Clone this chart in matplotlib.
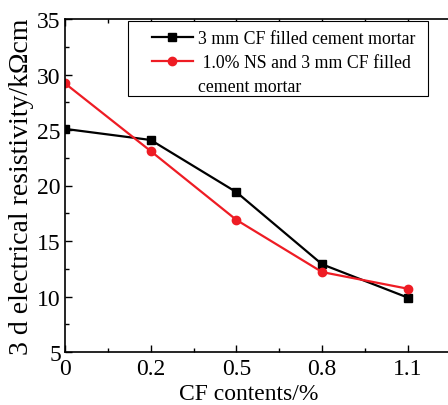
import matplotlib
matplotlib.use("Agg")
import matplotlib.pyplot as plt
from matplotlib.ticker import MultipleLocator
from matplotlib.lines import Line2D
from matplotlib.patches import Rectangle

plt.rcParams['font.family'] = ['Liberation Serif', 'DejaVu Serif']

categories = ["0", "0.2", "0.5", "0.8", "1.1"]
cf_only = [25.1, 24.1, 19.4, 12.9, 9.9]
ns_cf = [29.2, 23.1, 16.9, 12.2, 10.7]
label_cf = "3 mm CF filled cement mortar"
label_ns_1 = " 1.0% NS and 3 mm CF filled"
label_ns_2 = "cement mortar"

W, H = 448, 406
fig = plt.figure(figsize=(W / 100, H / 100), dpi=100)
ax = fig.add_axes([65 / W, 53 / H, 0.88, 333 / H])
x = list(range(len(categories)))
l1, = ax.plot(x, cf_only, color='black', marker='s', markersize=5.5, lw=1.6)
l2, = ax.plot(x, ns_cf, color='#ee1c24', marker='o', markersize=6, lw=1.6)

ax.set_xlim(0, 4.6)
ax.set_ylim(5, 35)
ax.set_xticks(x)
ax.set_xticklabels(categories)
ax.xaxis.set_minor_locator(MultipleLocator(0.5))
ax.yaxis.set_major_locator(MultipleLocator(5))
ax.yaxis.set_minor_locator(MultipleLocator(2.5))
ax.tick_params(which='both', direction='in', top=True, right=True)
ax.tick_params(axis='x', labelsize=17, pad=4)
ax.tick_params(axis='y', labelsize=17, pad=3)
ax.tick_params(which='major', length=5, width=1)
ax.tick_params(which='minor', length=3, width=1)
for s in ax.spines.values():
    s.set_linewidth(1.2)
ax.set_xlabel("CF contents/%", fontsize=17, va='top')
ax.xaxis.set_label_coords((249 - 65) / (0.88 * W), (353 - 384) / 333)
ax.set_ylabel("3 d electrical resistivity/kΩcm", fontsize=20, va='center')
ax.yaxis.set_label_coords((21 - 65) / (0.88 * W), 0.5)

# legend frame
ax.add_patch(Rectangle((128 / W, 1 - 97 / H), 300 / W, 75 / H, transform=fig.transFigure,
                       facecolor='white', edgecolor='black', lw=0.8, clip_on=False, zorder=4))
empty = Line2D([], [], color='none')
leg = ax.legend([l1, l2, empty], [label_cf, label_ns_1, label_ns_2],
                loc='upper left', bbox_to_anchor=(152 / W, 1 - 31 / H),
                bbox_transform=fig.transFigure, fontsize=12.8, frameon=False,
                handlelength=2.3, handletextpad=0.28, borderpad=0, borderaxespad=0,
                labelspacing=0.4)
leg.set_zorder(5)

fig.savefig("out.png", dpi=100)
